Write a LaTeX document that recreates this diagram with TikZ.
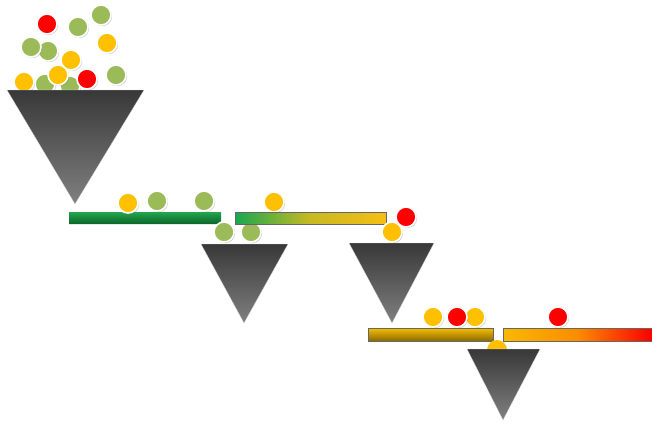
\documentclass[tikz,border=0pt]{standalone}
\usetikzlibrary{shadows}
\definecolor{bgreen}{HTML}{9BBB59}
\definecolor{borange}{HTML}{FFC000}
\definecolor{bred}{HTML}{FF0000}
\definecolor{fdark}{HTML}{383838}
\definecolor{flight}{HTML}{808080}
\definecolor{gtop}{HTML}{22A64F}
\definecolor{gbot}{HTML}{0A6428}
\definecolor{g2left}{HTML}{18A850}
\definecolor{g2mid}{HTML}{C8B923}
\definecolor{g2right}{HTML}{F6BE14}
\definecolor{ytop}{HTML}{F8BE00}
\definecolor{ybot}{HTML}{876900}
\definecolor{oleft}{HTML}{FAB900}
\definecolor{omid}{HTML}{FA8C00}
\definecolor{oright}{HTML}{FA0000}
\tikzset{
  ball/.style={circle, minimum size=20pt, inner sep=0pt, draw=white, line width=1.6pt,
    drop shadow={shadow xshift=1.2pt, shadow yshift=-1.2pt, opacity=0.35, fill=gray}},
  gball/.style={ball, fill=bgreen},
  oball/.style={ball, fill=borange},
  rball/.style={ball, fill=bred},
  funnel/.style={top color=fdark, bottom color=flight, draw=white!85!black, line width=0.3pt},
  barline/.style={draw=black!60, line width=0.4pt}
}
\begin{document}
\begin{tikzpicture}[x=1pt,y=-1pt]
\useasboundingbox (0,0) rectangle (652,423);
% balls above big funnel (back ones first)
\node[gball] (b13) at (70,86) {};
\node[gball] (b12) at (45,84) {};
\node[oball] (b11) at (24,82) {};
\node[gball] (b6) at (48,51) {};
\node[gball] (b5) at (31,47) {};
\node[rball] (b1) at (47,24) {};
\node[gball] (b2) at (78,27) {};
\node[gball] (b3) at (101,15) {};
\node[oball] (b4) at (107,43) {};
\node[oball] (b7) at (71,60) {};
\node[oball] (b8) at (58,75) {};
\node[rball] (b9) at (87,79) {};
\node[gball] (b10) at (116,75) {};
% big funnel
\path[funnel] (7,90) -- (144,90) -- (75,204) -- cycle;
% bar 1
\path[top color=gtop, bottom color=gbot] (69,212) -- (221,212) -- (221,221) -- (218,224) -- (69,224) -- cycle;
\node[oball] (c1) at (128,203) {};
\node[gball] (c2) at (157,201) {};
\node[gball] (c3) at (204,201) {};
% balls under bar 1, above funnel 2
\node[gball] (c4) at (224,232) {};
\node[gball] (c5) at (251,232) {};
% funnel 2
\path[funnel] (201,244) -- (288,244) -- (244,323) -- cycle;
% bar 2
\node[oball] (d1) at (274,202) {};
\path[barline, left color=g2left, right color=g2right, middle color=g2mid] (235,212) rectangle (386,224);
\node[oball] (d2) at (392,232) {};
\node[rball] (d3) at (406,217) {};
% funnel 3
\path[funnel] (349,243) -- (434,243) -- (392,323) -- cycle;
% bar 3
\node[oball] (e1) at (433,317) {};
\node[oball] (e2) at (475,317) {};
\node[rball] (e3) at (457,317) {};
\path[barline, top color=ytop, bottom color=ybot] (368,328) rectangle (493,341);
% ball hidden by funnel 4
\node[circle, minimum size=20pt, inner sep=0pt, fill=borange] (f1) at (497,350) {};
% funnel 4
\path[funnel] (467,349) -- (540,349) -- (503,420) -- cycle;
% bar 4
\node[rball] (g1) at (558,317) {};
\path[barline, left color=oleft, right color=oright, middle color=omid] (503,328) rectangle (652,341);
\end{tikzpicture}
\end{document}
